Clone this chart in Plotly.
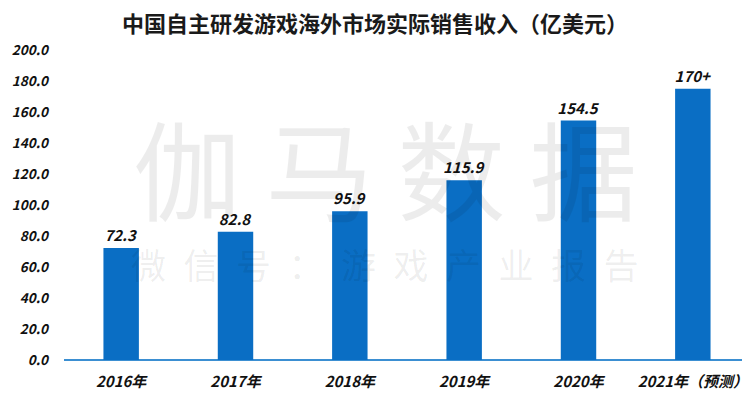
import plotly.graph_objects as go

categories = ["2016年", "2017年", "2018年", "2019年", "2020年", "2021年（预测）"]
values = [72.3, 82.8, 95.9, 115.9, 154.5, 175.0]
value_labels = ["72.3", "82.8", "95.9", "115.9", "154.5", "170+"]
y_ticks = [0, 20, 40, 60, 80, 100, 120, 140, 160, 180, 200]
y_tick_labels = [f"{v:.1f}" for v in y_ticks]

title = "中国自主研发游戏海外市场实际销售收入（亿美元）"
watermark_main = "伽 马 数 据"
watermark_sub = "\u2002".join("微信号：游戏产业报告")

bold_font = "Noto Sans CJK SC, Noto Sans, sans-serif"

# The page body has an 8px default margin; compensate in the layout.
W, H = 750, 398
L, R, T, B = 56, 8, 42, 46

fig = go.Figure()
fig.add_trace(go.Bar(
    x=categories,
    y=values,
    width=0.31,
    marker=dict(color="#0a6ec4", line=dict(width=0)),
    text=[f"<b><i>{t}</i></b>" for t in value_labels],
    textposition="outside",
    constraintext="none",
    textfont=dict(family=bold_font, size=15, color="#111111"),
    cliponaxis=False,
))

fig.update_layout(
    width=W, height=H,
    paper_bgcolor="white", plot_bgcolor="white",
    margin=dict(l=L, r=R, t=T, b=B),
    showlegend=False,
    title=dict(
        text=f"<b>{title}</b>",
        x=367 / W, xanchor="center", y=1 - 16 / H, yanchor="middle",
        font=dict(family=bold_font, size=22, color="#1a1a1a"),
    ),
    xaxis=dict(
        automargin=False,
        showgrid=False, showline=False, zeroline=False,
        ticks="", tickfont=dict(family=bold_font, size=15, color="#111111"),
        tickvals=categories,
        ticktext=[f"<b><i>{c}</i></b>" for c in categories],
        ticklabelstandoff=11,
    ),
    yaxis=dict(
        automargin=False,
        range=[0, 200], showgrid=False, showline=False,
        zeroline=True, zerolinecolor="#3b8fd2", zerolinewidth=1.5,
        tickvals=y_ticks, ticktext=[f"<b><i>{t}</i></b>" for t in y_tick_labels],
        tickfont=dict(family=bold_font, size=13.5, color="#111111"),
        ticks="", ticklen=0, ticklabelstandoff=15,
    ),
    bargap=0.69,
)

fig.add_annotation(
    text=watermark_main, xref="paper", yref="paper", x=0.468, y=0.625,
    xanchor="center", yanchor="middle",
    showarrow=False, font=dict(family="Noto Sans CJK SC", size=108, color="rgba(0,0,0,0.075)"),
)
fig.add_annotation(
    text=watermark_sub, xref="paper", yref="paper", x=0.468, y=0.31,
    xanchor="center", yanchor="middle",
    showarrow=False, font=dict(family="Noto Sans CJK SC", size=35, color="rgba(0,0,0,0.075)"),
)

fig.write_html("out.html")
